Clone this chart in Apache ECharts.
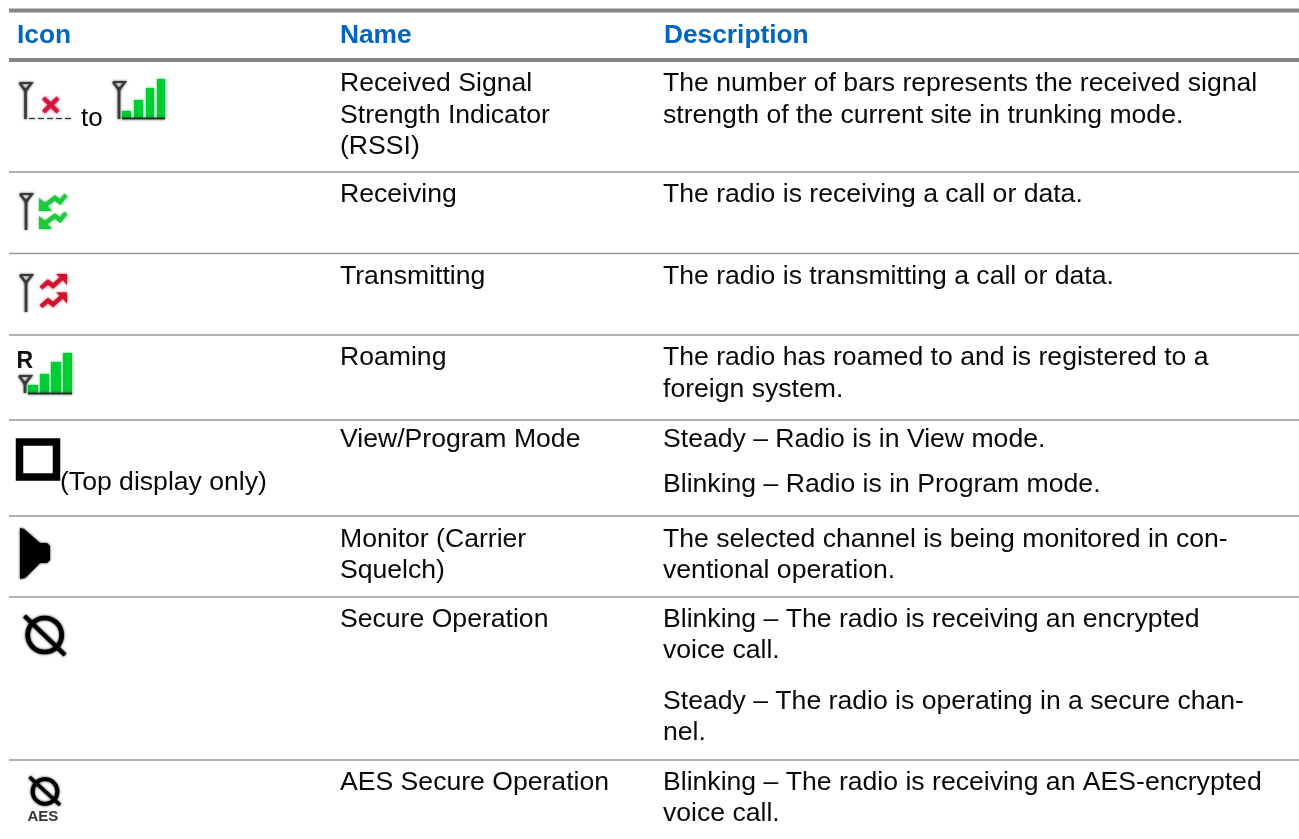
<!DOCTYPE html>
<html>
<head>
<meta charset="utf-8">
<title>Icons</title>
<script src="https://cdn.jsdelivr.net/npm/echarts@6/dist/echarts.min.js"></script>
<style>
html,body{margin:0;padding:0;background:#fff;overflow:hidden}
#chart{width:1299px;height:839px}
</style>
</head>
<body>
<div id="chart"></div>
<script>
var headers = ['Icon', 'Name', 'Description'];
var nameLines = ['Received Signal', 'Strength Indicator', '(RSSI)', 'Receiving', 'Transmitting', 'Roaming',
    'View/Program Mode', 'Monitor (Carrier', 'Squelch)', 'Secure Operation', 'AES Secure Operation'];
var nameY = [84, 116, 147, 195, 277, 358, 440, 540, 571, 620, 783];
var descLines = ['The number of bars represents the received signal', 'strength of the current site in trunking mode.',
    'The radio is receiving a call or data.', 'The radio is transmitting a call or data.',
    'The radio has roamed to and is registered to a', 'foreign system.',
    'Steady \u2013 Radio is in View mode.', 'Blinking \u2013 Radio is in Program mode.',
    'The selected channel is being monitored in con-', 'ventional operation.',
    'Blinking \u2013 The radio is receiving an encrypted', 'voice call.',
    'Steady \u2013 The radio is operating in a secure chan-', 'nel.',
    'Blinking \u2013 The radio is receiving an AES-encrypted', 'voice call.'];
var descY = [84, 116, 195, 277, 358, 390, 440, 485, 540, 571, 620, 651, 702, 733, 783, 814];
var rowLines = [172, 253.5, 335, 420, 516, 597, 760];

var FONT = '"Liberation Sans", Arial, sans-serif';
var els = [];

function text(x, y, s, size, color, weight) {
    els.push({type: 'text', x: x, y: y, style: {text: s, fill: color || '#0a0a0a', font: (weight || 'normal') + ' ' + (size || 26.6) + 'px ' + FONT, verticalAlign: 'middle'}});
}
function soft(style) {
    style.shadowBlur = 2.5;
    style.shadowColor = style.fill && style.fill !== 'none' ? style.fill : style.stroke;
    return style;
}
function poly(points, fill) {
    els.push({type: 'polygon', shape: {points: points}, style: soft({fill: fill, stroke: null})});
}
function line(points, color, w) {
    els.push({type: 'polyline', shape: {points: points}, style: soft({fill: 'none', stroke: color, lineWidth: w})});
}
function box(x, y, w, h, fill) {
    els.push({type: 'rect', shape: {x: x, y: y, width: w, height: h}, style: soft({fill: fill})});
}
function antenna(cx, top, bottom) {
    var d = '#3a3a3a';
    line([[cx - 6, top + 1], [cx + 6, top + 1], [cx, top + 9], [cx - 6, top + 1]], d, 2.2);
    line([[cx, top + 6], [cx, bottom]], d, 2.6);
}
function bars(list, base, left, right) {
    list.forEach(function (b) { box(b[0], b[1], b[2] - b[0], base - b[1], '#00cc33'); });
    line([[left, base], [right, base]], '#222', 1.4);
}
function noEntry(cx, cy, r, lw, x1, y1, x2, y2) {
    els.push({type: 'circle', shape: {cx: cx, cy: cy, r: r}, style: soft({fill: 'none', stroke: '#000', lineWidth: lw})});
    line([[x1, y1], [x2, y2]], '#000', lw - 0.5);
}

// table rules
[[10.5, 4], [60, 4]].forEach(function (r) {
    els.push({type: 'rect', shape: {x: 9, y: r[0] - r[1] / 2, width: 1290, height: r[1]}, style: {fill: '#858585'}});
});
rowLines.forEach(function (y) {
    els.push({type: 'rect', shape: {x: 9, y: y - 0.75, width: 1290, height: 1.5}, style: {fill: '#999'}});
});

// text columns
text(17, 35.5, headers[0], 26.3, '#0066bf', 'bold');
text(340, 35.5, headers[1], 26.3, '#0066bf', 'bold');
text(664, 35.5, headers[2], 26.3, '#0066bf', 'bold');
nameLines.forEach(function (s, i) { text(340, nameY[i], s); });
descLines.forEach(function (s, i) { text(663, descY[i], s); });
text(81, 119, 'to', 26, '#000');
text(60, 483, '(Top display only)');

// RSSI icons
antenna(25.5, 82, 119);
[29, 38, 47, 56, 65].forEach(function (x) { line([[x, 118.5], [x + 6, 118.5]], '#333', 1); });
line([[43.5, 98], [58, 112]], '#d6143c', 4);
line([[58, 98], [43.5, 112]], '#d6143c', 4);
antenna(119, 81, 119);
bars([[122, 111, 131], [134, 100, 143], [146, 88, 154], [157, 79, 165]], 118.5, 122, 165);

// receiving
antenna(26, 193, 230);
[0, 18].forEach(function (o) {
    line([[66, 195 + o], [60, 202 + o], [55, 198 + o], [44, 206 + o]], '#1fc93f', 4.2);
    poly([[39, 198 + o], [45, 203 + o], [52, 211 + o], [39, 211 + o]], '#1fc93f');
});

// transmitting
antenna(26, 274, 312);
[0, 18.5].forEach(function (o) {
    line([[41, 288 + o], [48, 282 + o], [53, 286 + o], [62, 278 + o]], '#d0142f', 4.2);
    poly([[56, 274 + o], [67, 274 + o], [67, 285 + o], [62, 279 + o]], '#d0142f');
});

// roaming
text(16.5, 362, 'R', 23, '#111', 'bold');
antenna(25, 375, 393);
bars([[28, 385, 38], [40, 374, 49], [51, 362, 61], [63, 353, 72]], 393.5, 28, 72);

// view / program box
els.push({type: 'rect', shape: {x: 19.5, y: 442, width: 37, height: 35}, style: {fill: 'none', stroke: '#000', lineWidth: 7.5}});

// monitor speaker
poly([[20, 528], [24, 529], [40, 543], [47, 543], [50, 546], [50, 560], [47, 563], [40, 563], [25, 578], [20, 579]], '#000');

// secure
noEntry(44.7, 635, 17, 4.6, 24.5, 616, 65, 655);

// aes
noEntry(45, 791.5, 12.4, 3.8, 29.5, 777, 60, 805);
text(27.5, 817, 'AES', 15, '#333', 'bold');

var chart = echarts.init(document.getElementById('chart'), null, {renderer: 'canvas'});
chart.setOption({
    animation: false,
    backgroundColor: '#fff',
    graphic: {elements: els}
});
</script>
</body>
</html>
